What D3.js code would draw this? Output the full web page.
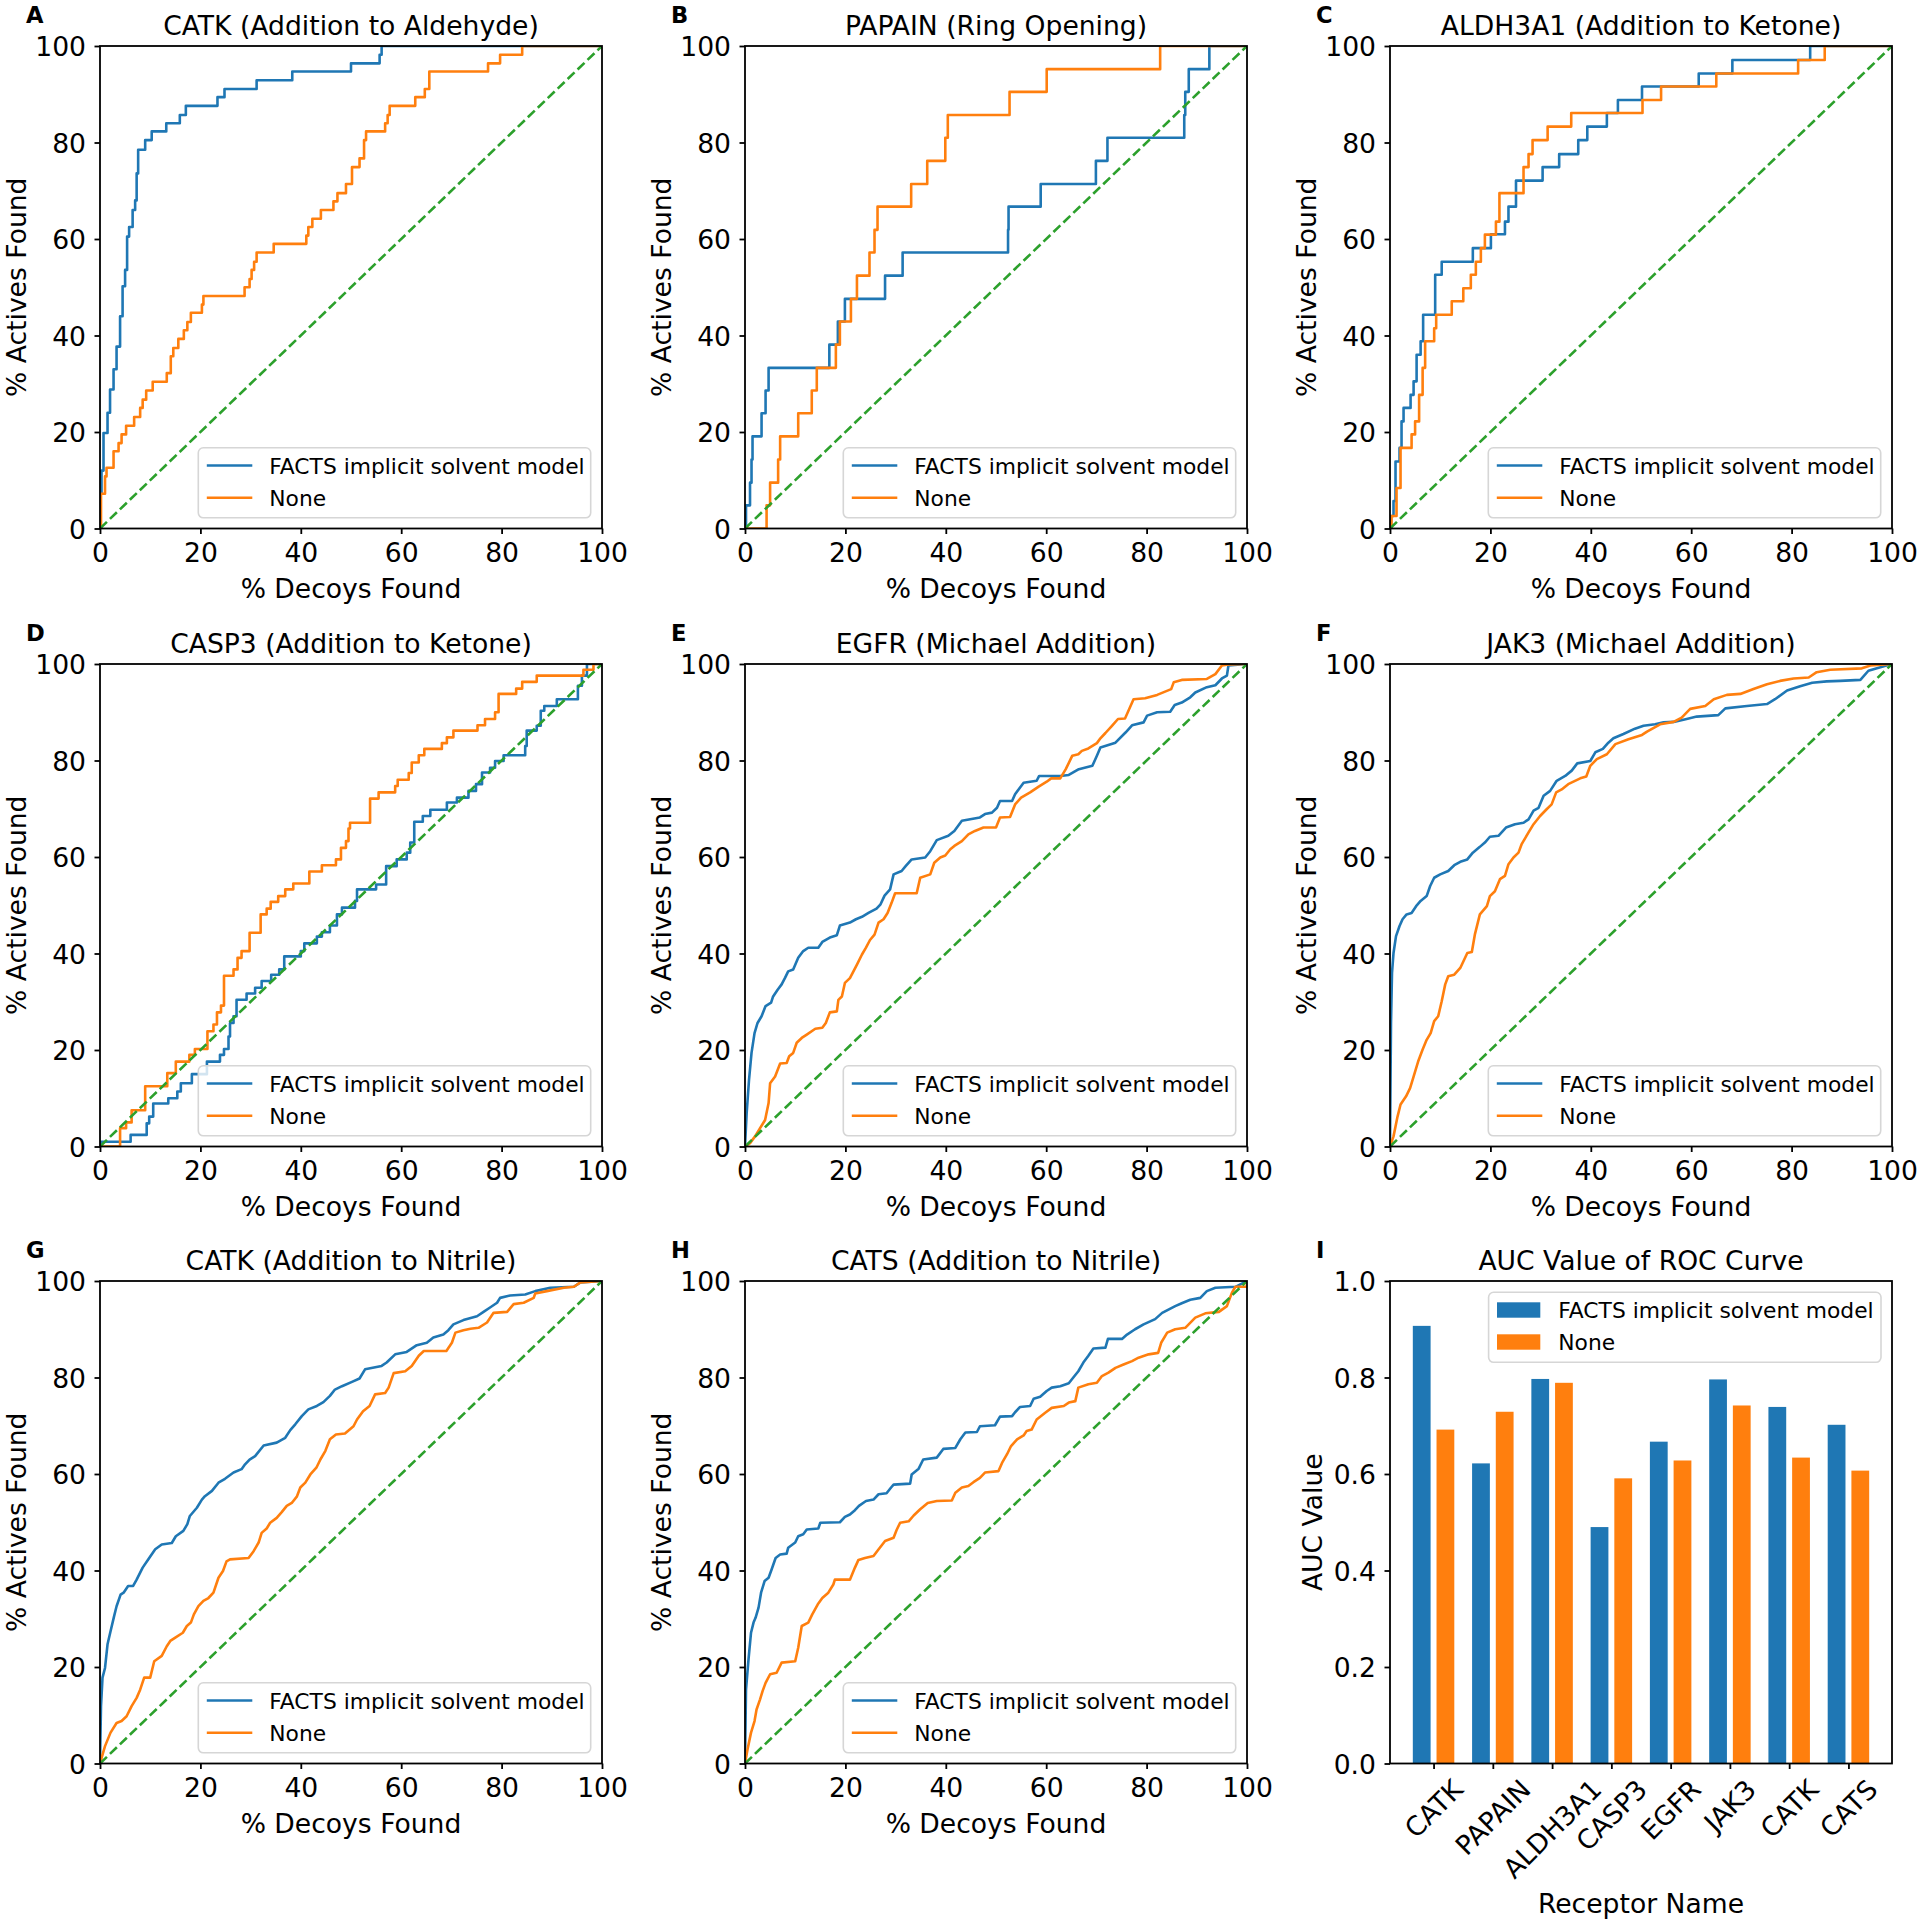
<!DOCTYPE html>
<html><head><meta charset="utf-8">
<script src="https://cdn.jsdelivr.net/npm/d3@7"></script>
<style>body{margin:0;background:#fff;} text{font-family:"DejaVu Sans",sans-serif;fill:#000;}</style>
</head><body><svg id="fig" width="1920" height="1924" xmlns="http://www.w3.org/2000/svg"></svg>
<script>
// ---------------- DATA ----------------
const seriesNames = ["FACTS implicit solvent model", "None"];
const panelLetters = ["A","B","C","D","E","F","G","H","I"];
const rocTitles = ["CATK (Addition to Aldehyde)","PAPAIN (Ring Opening)","ALDH3A1 (Addition to Ketone)",
  "CASP3 (Addition to Ketone)","EGFR (Michael Addition)","JAK3 (Michael Addition)",
  "CATK (Addition to Nitrile)","CATS (Addition to Nitrile)"];
const aucTitle = "AUC Value of ROC Curve";
const rocTicks = [0,20,40,60,80,100];
const aucTicks = [0,0.2,0.4,0.6,0.8,1.0];
const diagonal = [[0,0],[100,100]];
const receptors = ["CATK","PAPAIN","ALDH3A1","CASP3","EGFR","JAK3","CATK","CATS"];
const aucFacts = [0.907,0.622,0.797,0.490,0.667,0.796,0.739,0.702];
const aucNone  = [0.692,0.729,0.789,0.591,0.628,0.742,0.634,0.607];

// ROC curves: [% decoys found, % actives found]
const catkAldFacts = [[0,0],[0,7.4],[0.3,12],[0.7,19.8],[1.5,24],[2.0,28.8],[2.7,33],[3.3,37.7],[4.0,44],[4.5,50.2],[5.0,53.6],[5.4,60.5],[5.8,62.5],[6.5,66],[7.0,68],[7.3,73.6],[7.6,78.5],[9.0,80.5],[10.3,82.3],[13.2,84],[15.9,85.7],[17.1,87.6],[23.4,89.4],[24.8,91.1],[31.2,92.9],[38.3,94.7],[50.0,96.4],[55.7,98.2],[56.1,100],[100,100]];
const catkAldNone = [[0,0],[0.2,7.2],[1.0,10.8],[1.3,12.6],[2.7,16],[3.7,17.7],[4.3,19.5],[5.2,21.3],[6.8,23.1],[8.0,25],[8.5,26.7],[9.2,28.6],[10.5,30.4],[13.3,32.2],[14.1,35.7],[14.6,37.4],[15.6,39.3],[16.7,41.1],[17.4,42.8],[18.1,44.7],[20.3,46.4],[20.6,48.2],[28.8,50],[29.8,51.7],[30.2,53.6],[30.7,55.3],[31.2,57.2],[34.6,59],[41.1,60.7],[41.5,62.5],[42.3,64.2],[44.0,66],[46.5,67.8],[47.3,69.5],[49.0,71.4],[50.2,74.9],[51.7,76.7],[52.6,80.5],[53.0,82.3],[56.8,84],[57.3,85.7],[57.7,87.6],[62.8,89.4],[64.7,91.1],[65.6,94.7],[77.3,96.4],[79.7,98.2],[84.1,100],[100,100]];
const papainFacts = [[0,0],[0.2,4.8],[1.0,9.5],[1.3,14.3],[1.5,19.1],[3.3,23.9],[4.1,28.6],[4.7,33.3],[16.8,38.1],[18.5,42.9],[19.9,47.6],[27.9,52.4],[31.4,57.2],[52.4,61.9],[52.5,66.7],[58.9,71.4],[69.9,76.2],[72.2,81],[87.5,85.7],[87.7,90.5],[88.4,95.2],[92.5,100],[100,100]];
const papainNone = [[0,0],[4.3,4.8],[5.0,9.5],[6.6,14.3],[7.0,19.1],[10.6,23.9],[13.3,28.6],[14.3,33.3],[18.1,38.1],[18.9,42.9],[21.1,47.6],[22.3,52.4],[24.8,57.2],[25.8,61.9],[26.4,66.7],[33.1,71.4],[36.3,76.2],[39.9,81],[40.4,85.7],[52.7,90.5],[60.1,95.2],[82.7,100],[100,100]];
const aldhFacts = [[0,0],[0.2,2.6],[0.7,5.7],[1.1,13.9],[1.9,16.7],[2.3,22.2],[2.7,25],[4.1,27.7],[4.7,30.5],[5.3,36],[6.1,38.8],[6.6,44.3],[9.0,52.6],[10.3,55.3],[16.5,58.1],[20.1,61],[22.9,63.6],[23.6,66.7],[25.1,72.1],[30.4,74.9],[33.7,77.6],[37.5,80.5],[39.3,83.3],[43.2,86.1],[45.4,88.8],[50.2,91.6],[61.5,94.3],[68.2,97.1],[83.7,100],[100,100]];
const aldhNone = [[0,0],[0.3,2.6],[1.3,8.4],[2.1,16.7],[4.3,19.5],[5.0,22.2],[5.8,27.7],[6.5,33.3],[7.0,38.8],[8.8,41.5],[9.2,44.3],[12.3,47.1],[14.6,49.8],[16.1,52.6],[17.1,55.3],[18.1,58.1],[18.9,60.9],[21.1,63.6],[21.8,69.5],[26.6,74.9],[27.6,77.6],[28.4,80.5],[31.4,83.3],[36.1,86.1],[50.3,88.8],[54.0,91.6],[65.0,94.3],[81.3,97.1],[86.6,100],[100,100]];
const casp3Facts = [[0,0],[0.2,1.0],[6.1,2.4],[9.3,4.8],[9.8,6.2],[10.6,8.9],[13.6,10],[15.4,11.4],[16.1,13.1],[18.3,15],[21.3,17.6],[23.9,19],[24.7,20.2],[25.6,22.8],[25.9,25.6],[26.6,27],[27.2,30.4],[29.2,31.7],[30.9,32.9],[32.2,34.3],[34.1,35.6],[35.7,36.7],[36.7,39.4],[40.0,40.5],[40.7,42.1],[43.2,43.5],[44.2,44.4],[45.8,45.8],[47.2,48.1],[48.2,49.5],[50.8,50.9],[51.2,53.3],[55.0,54.3],[57.0,58.1],[59.1,59.5],[61.1,60.9],[61.8,63],[62.6,67.3],[64.3,68.5],[65.8,69.8],[69.1,71.3],[71.1,72.3],[73.4,73.7],[74.9,75.1],[76.1,77.5],[77.7,78.5],[78.7,79.9],[80.4,81.1],[84.7,83],[85.0,86.2],[87.0,87.2],[87.8,90.3],[88.5,91.3],[91.0,92.7],[95.2,95.5],[96.0,97.6],[97.0,100],[100,100]];
const casp3None = [[0,0],[4.0,3.8],[5.2,5],[6.3,7.5],[9.0,12.5],[13.4,15.2],[15.1,17.6],[17.8,19],[18.9,20.2],[21.4,23.9],[22.6,25.3],[23.3,27.8],[24.1,29.2],[24.7,35.4],[26.6,36.7],[27.4,39.1],[28.2,40.5],[29.8,44.3],[32.0,48.1],[33.2,49.3],[34.0,50.7],[35.5,51.9],[36.9,53.3],[38.5,54.5],[41.7,57],[44.2,58.3],[47.0,59.5],[48.0,61.9],[49.0,63.3],[49.5,65.9],[49.8,67.1],[53.8,72.1],[55.5,73.4],[58.8,74.7],[59.3,76],[61.5,77.4],[62.1,79.6],[63.5,81.1],[64.6,82.4],[68.1,83.6],[69.1,84.8],[70.4,86.2],[75.2,87.3],[76.7,88.6],[78.7,90],[79.4,93.8],[82.9,94.9],[84.1,96.3],[87.0,97.6],[96.3,98.8],[98.3,100],[100,100]];
const egfrFacts = [[0,0],[0.33,6.9],[0.8,13.8],[1.3,19.4],[1.9,23.5],[2.5,25.6],[3.3,27.0],[4.1,29.1],[5.2,29.8],[5.6,31.1],[6.5,32.5],[7.3,33.6],[8.0,35.0],[8.6,36.3],[9.6,36.7],[10.6,39.1],[11.6,40.5],[12.6,41.2],[14.6,41.2],[15.4,42.4],[16.9,43.3],[18.3,43.8],[18.9,45.8],[20.9,46.4],[22.1,47.1],[23.3,47.6],[24.6,48.4],[26.2,49.3],[27.0,50.2],[27.8,52.0],[28.9,53.3],[29.6,56.4],[31.2,57.1],[32.0,58.1],[33.2,59.5],[35.9,59.9],[36.9,61.2],[38.2,63.5],[40.5,64.4],[41.7,65.4],[43.2,67.5],[46.8,68.2],[47.8,68.9],[49.2,69.2],[50.2,70.2],[50.8,71.6],[53.2,71.6],[53.8,73.0],[55.5,75.4],[58.1,75.8],[58.6,76.8],[62.8,76.8],[64.5,77.0],[66.5,78.2],[69.2,78.9],[70.1,81.0],[70.8,82.7],[73.8,83.7],[75.8,85.8],[77.1,87.3],[79.4,87.9],[80.1,89.3],[82.1,90.0],[84.7,90.1],[85.6,91.5],[87.0,92.0],[88.7,93.1],[89.7,94.1],[92.0,95.2],[93.7,95.6],[95.0,97.0],[96.0,97.6],[96.3,99.7],[100,100]];
const egfrNone = [[0,0],[1.0,0.7],[2.0,2.1],[3.0,3.8],[4.0,5.5],[4.7,9.0],[5.0,13.1],[6.0,14.5],[7.0,17.2],[8.3,17.3],[8.8,18.7],[9.6,19.4],[10.3,21.5],[11.3,22.5],[12.3,23.2],[14.0,24.4],[15.4,24.6],[16.1,25.6],[16.9,27.8],[18.3,28.0],[18.6,30.4],[19.3,31.1],[19.9,33.9],[20.9,34.9],[22.3,37.7],[23.3,39.8],[24.1,41.2],[24.9,42.8],[25.8,43.9],[26.6,46.4],[27.6,47.1],[28.4,48.4],[29.2,50.5],[29.9,52.5],[34.2,52.5],[34.9,55.7],[36.9,56.4],[37.7,58.8],[38.9,59.9],[39.9,60.3],[40.9,61.6],[41.7,62.3],[43.2,63.3],[44.5,64.7],[45.8,65.4],[47.5,66.1],[50.0,66.1],[50.8,68.2],[52.8,68.3],[53.8,70.9],[55.0,72.3],[56.8,73.4],[58.5,74.6],[60.1,75.6],[61.0,76.3],[62.8,76.3],[63.9,78.2],[65.2,81.0],[66.4,81.3],[67.1,82.0],[68.4,82.5],[70.1,83.6],[70.8,84.6],[71.8,85.7],[73.1,87.2],[74.3,88.6],[75.7,88.7],[77.4,92.7],[79.7,92.9],[82.1,93.6],[84.9,94.8],[85.4,96.2],[87.0,96.7],[92.0,96.9],[93.7,97.9],[95.0,99.7],[96.3,99.9],[100,100]];
const jak3Facts = [[0,0],[0.2,25.6],[0.4,36.0],[0.7,40.1],[1.2,43.6],[1.9,45.7],[2.5,47.1],[3.3,48.1],[4.3,48.4],[5.2,49.8],[6.1,50.9],[7.3,51.9],[8.0,54.0],[8.8,55.7],[10.0,56.4],[11.6,57.1],[12.8,58.3],[14.0,59.0],[15.4,59.5],[16.5,60.9],[17.9,62.1],[18.9,63.0],[19.9,64.2],[21.6,64.4],[23.1,66.1],[24.9,66.8],[26.6,67.1],[27.6,67.8],[28.6,69.6],[29.6,70.2],[30.6,72.7],[31.9,73.7],[33.2,75.8],[34.9,76.8],[36.2,77.9],[37.3,79.4],[39.9,79.9],[40.9,81.7],[42.4,82.4],[43.5,83.7],[44.5,84.6],[46.5,85.5],[48.8,86.6],[50.5,87.2],[52.8,87.5],[54.5,87.9],[56.5,88.0],[59.1,88.6],[61.1,89.1],[65.4,89.4],[66.8,90.8],[71.1,91.3],[75.1,91.7],[76.7,92.7],[79.1,94.5],[81.7,95.4],[84.1,96.1],[87.0,96.4],[89.7,96.5],[93.7,96.7],[95.3,98.6],[97.0,99.1],[100,100]];
const jak3None = [[0,0],[0.7,2.1],[1.5,6.2],[2.1,8.7],[3.2,10.4],[4.0,12.1],[4.7,14.5],[5.6,17.6],[6.5,20.1],[7.3,22.1],[8.1,23.5],[8.8,26.0],[9.6,27.0],[10.3,30.1],[11.0,33.6],[11.6,35.3],[12.8,35.6],[14.0,37.0],[15.4,40.1],[16.3,40.3],[16.9,43.9],[17.9,48.1],[19.3,49.8],[19.9,51.9],[20.9,52.9],[21.9,55.4],[22.9,56.1],[23.6,58.5],[24.6,59.9],[25.6,60.9],[26.2,62.6],[27.6,65.1],[28.6,66.8],[29.9,68.5],[31.2,69.9],[32.2,70.9],[33.1,73.4],[34.2,74.0],[35.5,75.1],[37.9,76.3],[39.1,76.7],[39.9,78.9],[41.2,80.3],[43.2,81.3],[44.9,83.4],[47.5,84.4],[50.2,85.3],[51.2,86.0],[53.8,87.5],[56.5,88.0],[58.1,88.9],[59.8,90.7],[62.8,91.3],[64.5,92.7],[67.1,93.6],[69.8,93.8],[72.4,94.8],[75.1,95.8],[77.7,96.5],[80.4,97.0],[83.4,97.2],[85.0,98.3],[87.7,98.8],[94.0,99.1],[95.7,99.7],[100,100]];
const catkNitFacts = [[0,0],[0.2,11.9],[0.5,17.8],[1.0,19.8],[1.5,24.7],[2.1,27.4],[2.8,30.5],[3.3,32.6],[4.1,35.0],[4.7,35.4],[5.6,36.8],[6.6,36.8],[7.3,38.1],[8.5,40.6],[9.6,42.3],[11.0,44.4],[12.3,45.4],[14.3,45.7],[15.1,47.1],[16.6,48.2],[17.4,49.6],[17.9,51.3],[19.3,53.0],[20.3,54.7],[20.9,55.4],[22.3,56.5],[23.6,58.2],[24.9,59.0],[26.6,60.3],[28.2,61.0],[28.9,62.0],[29.8,63.0],[30.9,63.7],[32.6,65.9],[35.2,66.5],[36.9,67.5],[37.9,69.1],[38.9,70.3],[40.2,72.0],[41.5,73.4],[43.2,74.1],[44.5,74.9],[45.8,76.2],[46.8,77.5],[48.2,78.2],[50.2,79.1],[51.7,79.8],[52.8,81.7],[56.1,82.4],[57.1,83.1],[58.8,84.8],[61.1,85.3],[63.1,86.7],[65.1,87.2],[66.4,88.3],[68.4,88.9],[69.4,89.8],[70.4,91.0],[72.4,91.9],[75.1,92.7],[76.4,93.6],[77.7,94.5],[79.1,95.5],[79.7,96.5],[81.7,97.0],[84.7,97.2],[86.7,97.9],[89.7,98.6],[94.4,98.8],[95.7,99.7],[100,100]];
const catkNitNone = [[0,0],[1.0,3.6],[2.1,6.4],[3.3,8.4],[4.3,8.8],[5.3,9.8],[6.3,11.9],[7.3,13.6],[8.0,15.3],[8.8,17.8],[10.0,17.8],[10.8,21.2],[12.3,22.3],[13.3,24.3],[14.0,25.4],[15.0,26.1],[16.5,27.1],[17.3,28.5],[18.1,29.2],[18.7,30.9],[19.6,32.6],[20.6,33.7],[21.6,34.3],[22.6,35.4],[23.6,38.5],[24.5,39.9],[25.2,41.9],[25.9,42.3],[29.6,42.6],[30.6,44.0],[31.6,45.8],[32.2,47.8],[33.2,48.7],[33.9,49.9],[35.2,50.9],[36.2,52.1],[37.2,53.4],[38.2,54.0],[39.2,55.3],[39.9,57.2],[40.9,58.2],[41.9,59.9],[43.1,61.3],[43.9,63.0],[44.9,64.8],[45.8,67.2],[47.0,68.2],[48.8,68.4],[50.5,69.9],[51.2,71.3],[52.4,73.0],[53.7,74.1],[54.8,76.5],[56.8,76.8],[57.5,77.9],[58.5,80.9],[60.8,81.3],[62.1,82.4],[63.5,84.5],[64.5,85.5],[69.0,85.5],[70.1,87.2],[70.8,89.3],[72.4,89.8],[73.8,90.1],[75.4,90.3],[77.1,91.4],[78.4,93.4],[81.1,93.6],[82.4,95.2],[84.4,95.5],[86.4,96.5],[86.7,97.4],[89.0,97.9],[92.4,98.6],[94.4,98.8],[95.7,99.7],[100,100]];
const catsFacts = [[0,0],[0.2,15.3],[0.7,21.6],[1.2,27.1],[1.7,29.2],[2.1,30.2],[2.7,32.3],[3.2,35.4],[3.9,37.8],[4.7,38.5],[5.3,40.2],[6.1,42.6],[7.0,43.3],[8.3,43.5],[8.6,44.7],[10.0,45.8],[10.6,47.1],[11.6,47.5],[12.3,48.5],[14.6,48.7],[15.0,49.9],[18.9,50.0],[19.9,51.1],[20.9,51.6],[21.9,52.5],[22.7,53.4],[24.1,54.4],[25.6,54.7],[26.6,55.8],[28.2,56.0],[29.1,57.2],[29.6,57.8],[32.9,58.0],[33.2,59.9],[34.6,61.1],[35.5,63.0],[38.2,63.4],[39.5,65.2],[41.9,65.4],[42.9,67.2],[43.9,68.6],[46.2,68.7],[46.8,69.9],[49.8,70.1],[50.8,71.9],[53.2,72.0],[53.8,72.8],[54.8,73.9],[56.8,74.1],[57.5,75.6],[58.8,76.0],[60.1,77.2],[61.1,77.9],[62.8,78.2],[64.5,78.8],[65.4,80.0],[66.4,81.3],[67.4,83.1],[68.4,84.5],[69.4,86.0],[71.8,86.2],[72.3,88.0],[75.1,88.0],[76.1,88.9],[77.7,90.0],[79.4,91.0],[81.7,92.1],[83.1,93.4],[85.7,94.8],[87.0,95.4],[88.7,96.1],[90.7,96.5],[92.0,97.9],[93.7,98.6],[97.7,98.8],[100,100]];
const catsNone = [[0,0],[0.5,2.9],[1.2,6.4],[1.9,8.8],[2.3,11.2],[3.0,13.3],[3.5,15.0],[4.1,16.7],[5.0,18.5],[6.3,18.8],[7.3,20.9],[10.0,21.2],[10.6,24.0],[11.3,28.5],[12.6,29.2],[13.4,30.9],[14.5,33.0],[15.4,34.3],[16.6,35.4],[17.6,37.1],[17.9,38.1],[20.9,38.1],[21.9,40.6],[22.6,42.2],[23.9,42.6],[25.6,43.0],[26.7,44.5],[27.9,46.1],[29.6,46.8],[30.2,48.4],[30.9,49.9],[32.6,50.2],[33.6,51.4],[34.9,52.7],[36.4,54.0],[38.2,54.4],[41.2,54.5],[41.9,56.1],[43.2,57.2],[44.5,57.5],[45.5,58.3],[46.8,59.2],[47.8,60.3],[50.5,60.6],[51.2,62.3],[52.2,64.1],[53.0,65.8],[54.2,67.2],[55.5,68.0],[56.1,68.9],[57.1,69.2],[58.1,71.3],[59.8,72.7],[61.1,73.7],[63.5,74.1],[64.5,74.8],[65.8,75.1],[66.4,77.9],[68.4,78.6],[70.1,78.9],[71.1,80.3],[72.4,81.0],[73.8,82.0],[75.4,82.7],[77.1,83.4],[78.4,84.1],[80.4,84.8],[82.3,85.1],[82.9,87.2],[84.1,89.3],[85.7,90.0],[87.7,90.3],[89.7,92.4],[91.7,93.3],[94.4,93.6],[96.0,94.8],[97.0,97.6],[97.7,98.8],[100,98.8],[100,100]];

// ---------------- LAYOUT / STYLE ----------------
const colLeft = [100, 745, 1390];
const rowTop = [46, 664, 1281];
const W = 502, H = 482.5;
const FS = 26.6, LFS = 21.8;
const BLUE = "#1f77b4", ORANGE = "#ff7f0e", GREEN = "#2ca02c";
const LW = 2.6;

const rocPanels = [
  {facts: catkAldFacts, none: catkAldNone, step: true},
  {facts: papainFacts, none: papainNone, step: true},
  {facts: aldhFacts, none: aldhNone, step: true},
  {facts: casp3Facts, none: casp3None, step: true},
  {facts: egfrFacts, none: egfrNone, step: false},
  {facts: jak3Facts, none: jak3None, step: false},
  {facts: catkNitFacts, none: catkNitNone, step: false},
  {facts: catsFacts, none: catsNone, step: false}
];

const svg = d3.select("#fig");
svg.append("rect").attr("width",1920).attr("height",1924).attr("fill","#fff");
const defs = svg.append("defs");

function styleAxis(sel){
  sel.select(".domain").remove();
  sel.selectAll(".tick line").attr("stroke","#000").attr("stroke-width",1.8);
  sel.selectAll(".tick text").attr("font-size",FS).attr("font-family","DejaVu Sans").attr("fill","#000");
  sel.attr("font-size",null).attr("font-family",null);
}

function frame(g, idx, title){
  g.append("text").attr("x",-74).attr("y",-23).attr("font-size",22.6).attr("font-weight","bold").text(panelLetters[idx]);
  g.append("text").attr("x",W/2).attr("y",-11).attr("text-anchor","middle").attr("font-size",FS).text(title);
}

function legend(g, x0, y0, kind){
  const lg = g.append("g").attr("transform",`translate(${x0},${y0})`);
  lg.append("rect").attr("width",392.4).attr("height",70).attr("rx",5).attr("ry",5)
    .attr("fill","#fff").attr("fill-opacity",0.8).attr("stroke","#d6d6d6").attr("stroke-width",1.6);
  const cols = [BLUE, ORANGE];
  seriesNames.forEach((nm,i)=>{
    if(kind==="line"){
      lg.append("line").attr("x1",8.5).attr("x2",54).attr("y1",17.7+i*32.3).attr("y2",17.7+i*32.3)
        .attr("stroke",cols[i]).attr("stroke-width",LW);
      lg.append("text").attr("x",71).attr("y",26.7+i*31.7).attr("font-size",LFS).text(nm);
    } else {
      lg.append("rect").attr("x",8.4).attr("y",10+i*32).attr("width",43.3).attr("height",15.4).attr("fill",cols[i]);
      lg.append("text").attr("x",69.7).attr("y",26+i*31.7).attr("font-size",LFS).text(nm);
    }
  });
}

// ---------------- ROC PANELS ----------------
rocPanels.forEach((p, i)=>{
  const col = i % 3, row = Math.floor(i/3);
  const g = svg.append("g").attr("transform",`translate(${colLeft[col]},${rowTop[row]})`);
  const x = d3.scaleLinear().domain([0,100]).range([0,W]);
  const y = d3.scaleLinear().domain([0,100]).range([H,0]);
  const cid = "clip"+i;
  defs.append("clipPath").attr("id",cid).append("rect").attr("width",W).attr("height",H);
  const plot = g.append("g").attr("clip-path",`url(#${cid})`);
  const line = d3.line().x(d=>x(d[0])).y(d=>y(d[1])).curve(p.step ? d3.curveStepAfter : d3.curveLinear);
  plot.append("path").datum(p.facts).attr("d",line).attr("fill","none").attr("stroke",BLUE).attr("stroke-width",LW).attr("stroke-linejoin","round");
  plot.append("path").datum(p.none).attr("d",line).attr("fill","none").attr("stroke",ORANGE).attr("stroke-width",LW).attr("stroke-linejoin","round");
  plot.append("path").datum(diagonal).attr("d",d3.line().x(d=>x(d[0])).y(d=>y(d[1])))
    .attr("fill","none").attr("stroke",GREEN).attr("stroke-width",LW).attr("stroke-dasharray","9.6,4.2");

  const xa = g.append("g").attr("transform",`translate(0,${H})`)
    .call(d3.axisBottom(x).tickValues(rocTicks).tickSize(5.5).tickPadding(9.5).tickFormat(d3.format("d")));
  styleAxis(xa);
  const ya = g.append("g").call(d3.axisLeft(y).tickValues(rocTicks).tickSize(5.5).tickPadding(8.5).tickFormat(d3.format("d")));
  styleAxis(ya);
  ya.selectAll(".tick text").attr("dy","0.36em");

  g.append("rect").attr("width",W).attr("height",H).attr("fill","none").attr("stroke","#000").attr("stroke-width",1.8);
  frame(g, i, rocTitles[i]);
  g.append("text").attr("x",W/2).attr("y",H+69).attr("text-anchor","middle").attr("font-size",FS).text("% Decoys Found");
  g.append("text").attr("transform",`translate(-74.5,${H/2}) rotate(-90)`).attr("text-anchor","middle").attr("font-size",FS).text("% Actives Found");
  legend(g, W-11.3-392.4, H-10.7-70, "line");
});

// ---------------- AUC BAR PANEL ----------------
(function(){
  const g = svg.append("g").attr("transform",`translate(${colLeft[2]},${rowTop[2]})`);
  const x = d3.scaleLinear().domain([-0.735, 7.735]).range([0,W]);
  const y = d3.scaleLinear().domain([0,1]).range([H,0]);
  const bw = x(0.3)-x(0);
  g.selectAll("rect.f").data(aucFacts).join("rect").attr("class","f")
    .attr("x",(d,i)=>x(i-0.35)).attr("width",bw).attr("y",d=>y(d)).attr("height",d=>H-y(d)).attr("fill",BLUE);
  g.selectAll("rect.n").data(aucNone).join("rect").attr("class","n")
    .attr("x",(d,i)=>x(i+0.05)).attr("width",bw).attr("y",d=>y(d)).attr("height",d=>H-y(d)).attr("fill",ORANGE);

  const xa = g.append("g").attr("transform",`translate(0,${H})`)
    .call(d3.axisBottom(x).tickValues(d3.range(receptors.length)).tickSize(5.5).tickFormat(""));
  styleAxis(xa);
  const ya = g.append("g").call(d3.axisLeft(y).tickValues(aucTicks).tickSize(5.5).tickPadding(8.5).tickFormat(d3.format(".1f")));
  styleAxis(ya);
  ya.selectAll(".tick text").attr("dy","0.36em");

  receptors.forEach((r,i)=>{
    const t = g.append("text").attr("font-size",FS).attr("text-anchor","middle").attr("dominant-baseline","central").text(r);
    const w = t.node().getComputedTextLength();
    const h = FS*1.164;
    const half = (w+h)/(2*Math.SQRT2);
    t.attr("transform",`translate(${x(i)},${H+10+half}) rotate(-45)`);
  });

  g.append("rect").attr("width",W).attr("height",H).attr("fill","none").attr("stroke","#000").attr("stroke-width",1.8);
  frame(g, 8, aucTitle);
  g.append("text").attr("x",W/2).attr("y",H+149.5).attr("text-anchor","middle").attr("font-size",FS).text("Receptor Name");
  g.append("text").attr("transform",`translate(-68,${H/2}) rotate(-90)`).attr("text-anchor","middle").attr("font-size",FS).text("AUC Value");
  legend(g, W-11-392.4, 11.3, "patch");
})();
</script></body></html>
